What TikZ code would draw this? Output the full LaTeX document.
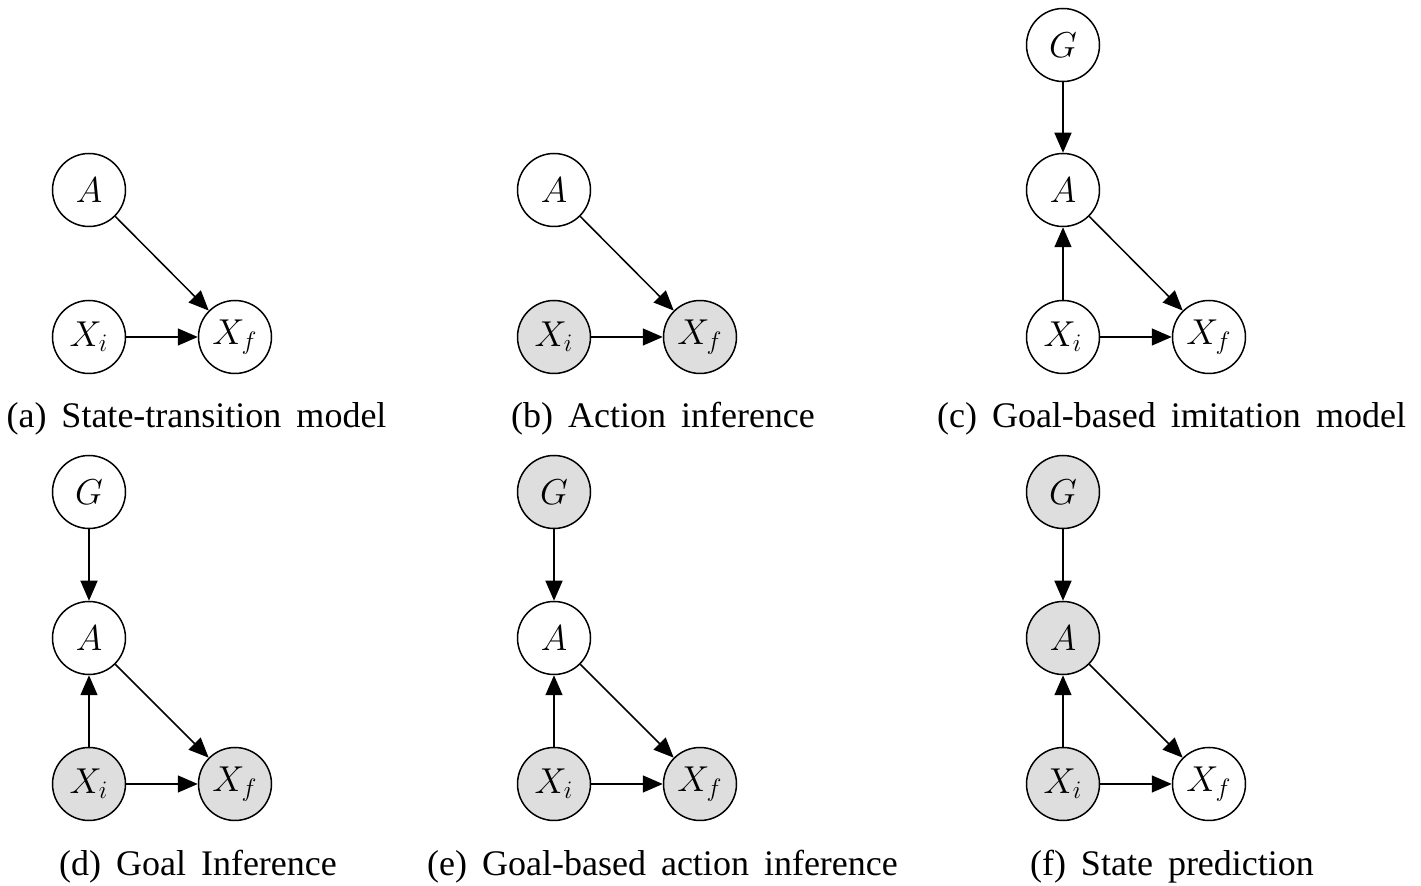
\RequirePackage{fix-cm}
\documentclass[tikz,border=0pt]{standalone}
\usepackage{fontspec}
\setmainfont{Liberation Serif}
\usetikzlibrary{arrows.meta}
\newcommand\mycapfont{\fontsize{18pt}{21pt}\selectfont\spaceskip=7.5pt\relax}
\tikzset{
  var/.style={circle, draw, line width=0.75pt, minimum size=36.5pt, inner sep=0pt,
    font=\fontsize{18pt}{21pt}\selectfont},
  obs/.style={var, fill=black!13},
  edge/.style={line width=0.75pt, -{Triangle[length=10pt,width=8.5pt]}, shorten >=0pt},
  captxt/.style={anchor=base, inner sep=0pt, font=\mycapfont},
}
\begin{document}
\begin{tikzpicture}[x=0.5pt, y=-0.5pt]
\useasboundingbox (0,0) rectangle (1421,886);
% (a)
\node[var] (aA) at (89,190) {$A$};
\node[var] (aXi) at (89,337) {$X_i$};
\node[var] (aXf) at (235,337) {$X_f$};
\draw[edge] (aA) -- (aXf);
\draw[edge] (aXi) -- (aXf);
\node[captxt] (acap) at (196.5,428) {(a) State-transition model};
% (b)
\node[var] (bA) at (554,190) {$A$};
\node[obs] (bXi) at (554,337) {$X_i$};
\node[obs] (bXf) at (700,337) {$X_f$};
\draw[edge] (bA) -- (bXf);
\draw[edge] (bXi) -- (bXf);
\node[captxt] (bcap) at (663,428) {(b) Action inference};
% (c)
\node[var] (cG) at (1063,45) {$G$};
\node[var] (cA) at (1063,190) {$A$};
\node[var] (cXi) at (1063,337) {$X_i$};
\node[var] (cXf) at (1209,337) {$X_f$};
\draw[edge] (cG) -- (cA);
\draw[edge] (cXi) -- (cA);
\draw[edge] (cA) -- (cXf);
\draw[edge] (cXi) -- (cXf);
\node[captxt] (ccap) at (1171.5,428) {(c) Goal-based imitation model};
% (d)
\node[var] (dG) at (89,492) {$G$};
\node[var] (dA) at (89,638) {$A$};
\node[obs] (dXi) at (89,784) {$X_i$};
\node[obs] (dXf) at (235,784) {$X_f$};
\draw[edge] (dG) -- (dA);
\draw[edge] (dXi) -- (dA);
\draw[edge] (dA) -- (dXf);
\draw[edge] (dXi) -- (dXf);
\node[captxt] (dcap) at (198,876) {(d) Goal Inference};
% (e)
\node[obs] (eG) at (554,492) {$G$};
\node[var] (eA) at (554,638) {$A$};
\node[obs] (eXi) at (554,784) {$X_i$};
\node[obs] (eXf) at (700,784) {$X_f$};
\draw[edge] (eG) -- (eA);
\draw[edge] (eXi) -- (eA);
\draw[edge] (eA) -- (eXf);
\draw[edge] (eXi) -- (eXf);
\node[captxt] (ecap) at (662.5,876) {(e) Goal-based action inference};
% (f)
\node[obs] (fG) at (1063,492) {$G$};
\node[obs] (fA) at (1063,638) {$A$};
\node[obs] (fXi) at (1063,784) {$X_i$};
\node[var] (fXf) at (1209,784) {$X_f$};
\draw[edge] (fG) -- (fA);
\draw[edge] (fXi) -- (fA);
\draw[edge] (fA) -- (fXf);
\draw[edge] (fXi) -- (fXf);
\node[captxt] (fcap) at (1172,876) {(f) State prediction};
\end{tikzpicture}
\end{document}
